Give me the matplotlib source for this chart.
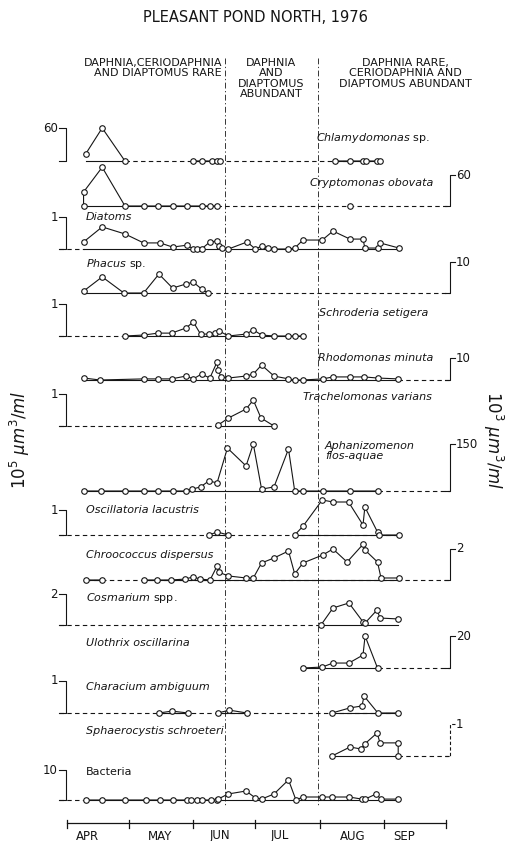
import numpy as np
import matplotlib.pyplot as plt

nan = np.nan

# days counted from 1 April 1976; values in units of each panel's scale bar
chlamy_day = [9, 17, 28, nan, 61, 65, 70, 72.5, 74, nan, 129.5, 136.7, 143, 144.4, 149.8, 151.2]
chlamy_val = [12.7, 60, 0, nan, 0, 0, 0, 0, 0, nan, 0, 0, 0, 0, 0, 0]

crypto_day = [8, 8, 17, 28, 37, 44, 51, 58, 65, 69, 72.5, nan, 136.7]
crypto_val = [0, 27, 75, 0, 0, 0, 0, 0, 0, 0, 0, nan, 0]

diatom_day = [8, 17, 28, 37, 45, 51, 58, 61, 63, 65, 69, 72.5, 73.4, 75, 78, 87, 91, 94, 97,
              100, 107, 110, 114, 123.3, 128.5, 136.7, 143, 143.9, 150.2, 151.2, 160.4]
diatom_val = [0.22, 0.69, 0.47, 0.19, 0.19, 0.06, 0.12, 0, 0, 0, 0.22, 0.25, 0.09, 0.03, 0, 0.22,
              0, 0.09, 0.03, 0, 0, 0.03, 0.28, 0.28, 0.56, 0.31, 0.31, 0.03, 0.03, 0.19, 0.03]

phacus_day = [8, 17, 27.5, 37, 44.4, 51, 57.5, 61, 65, 68.1]
phacus_val = [0.6, 5.2, 0, 0, 6.1, 1.6, 2.9, 3.5, 1.3, 0]

schrod_day = [28, 37, 44, 50.5, 57.5, 61, 64.5, 68.5, 71.5, 73.4, 78, 86.5, 90, 94, 100, 107, 110, 114]
schrod_val = [0, 0.03, 0.09, 0.09, 0.25, 0.44, 0.06, 0.06, 0.09, 0.16, 0, 0.06, 0.19, 0.03, 0, 0, 0, 0]

rhodo_day = [8, 16, 37, 44, 50.5, 57.5, 61, 65, 69, 72.5, 73, 74.4, 78, 86.5, 90, 94, 100, 107,
             110, 114, 123.5, 128.5, 136.7, 143.5, 150, 160]
rhodo_val = [0.9, 0, 0.5, 0.5, 0.5, 1.8, 0.5, 2.7, 0.9, 8.2, 4.5, 1.4, 0.9, 1.8, 2.7, 6.8, 1.8, 0.5,
             0, 0, 0.5, 1.4, 1.4, 1.4, 0.9, 0.5]

trach_day = [73, 78, 86.5, 90, 93.7, 100]
trach_val = [0.03, 0.25, 0.53, 0.81, 0.25, 0]

aphan_day = [8, 16.5, 28, 37, 44, 51, 57.5, 60.5, 64.5, 68.5, 72.5, 77.5, 86.5, 90, 94, 100, 107,
             110, 114, 123.5, 136.7, 150]
aphan_val = [0, 0, 0, 0, 0, 0, 0, 6, 13, 32, 26, 137, 80, 150, 6, 13, 134, 0, 0, 0, 0, 0]

oscil_day = [68.6, 72.5, 78, nan, 110, 114, 123.3, 128.5, 136, 143, 143.9, 150, 150.7, 160.4]
oscil_val = [0, 0.12, 0, nan, 0, 0.35, 1.4, 1.32, 1.32, 0.4, 1.12, 0.12, 0, 0]

chroo_day = [9, 17, nan, 37, 43.5, 50.2, 57, 61, 64.3, 69.1, 72.5, 73.4, 78, 86.5, 90, 94, 100, 107,
             110, 114, 123.5, 128.5, 135.3, 143, 143.9, 150, 151.7, 160.4]
chroo_val = [0, 0, nan, 0, 0, 0, 0.06, 0.2, 0.06, 0, 0.9, 0.5, 0.26, 0.13, 0.13, 1.1, 1.42, 1.87,
             0.39, 1.1, 1.61, 2.0, 1.16, 2.3, 1.94, 1.16, 0.13, 0.13]

cosma_day = [122.7, 128.5, 136.2, 143, 144, 149.8, 151.2, 160]
cosma_val = [0, 1.1, 1.42, 0.2, 0.13, 0.97, 0.45, 0.39]

uloth_day = [114, 123.3, 128.5, 136.2, 143, 144, 150]
uloth_val = [0, 0.6, 3.1, 3.1, 8.1, 20, 0]

chara_day = [44.4, 50.7, 58.5, nan, 73, 78.3, 87, nan, 128, 136.7, 142.5, 143.5, 150.2, 160]
chara_val = [0, 0.06, 0, nan, 0, 0.09, 0, nan, 0, 0.16, 0.22, 0.53, 0, 0]

sphae_day = [128, 136.7, 142, 143.9, 149.8, 151.2, 160, 160]
sphae_val = [0, 0.28, 0.22, 0.38, 0.72, 0.41, 0.41, 0]

bact_day = [9, 17, 28, 38, 45, 51, 58, 60, 63, 65, 69.6, 72.5, 73, 77.8, 86.5, 91, 94, 100, 107,
            110.6, 114, 123.3, 128, 136.2, 142.5, 144, 149.3, 151.7, 160]
bact_val = [0, 0, 0, 0, 0, 0, 0, 0, 0, 0, 0, 0, 0.3, 2, 3, 0.7, 0.3, 2, 6.7, 0, 1, 1, 1, 1, 0.3,
            0.3, 2, 0.3, 0.3]

scale_vals = [60, 60, 1, 10, 1, 10, 1, 150, 1, 2, 2, 20, 1, 1, 10]
month_names = ['APR', 'MAY', 'JUN', 'JUL', 'AUG', 'SEP']
month_starts = [0, 30, 61, 91, 122, 153, 183]

# layout: baseline row (px), bar height (px), bar side, dashed zero-line extent (days)
panels = [
    (chlamy_day, chlamy_val, 161, 33, 'L', (28, 151.2)),
    (crypto_day, crypto_val, 206, 31, 'R', (72.5, 185)),
    (diatom_day, diatom_val, 249, 32, 'L', (-3.9, 8)),
    (phacus_day, phacus_val, 293, 31, 'R', (68, 185)),
    (schrod_day, schrod_val, 336, 32, 'L', (-3.9, 28)),
    (rhodo_day, rhodo_val, 380, 22, 'R', (160, 185)),
    (trach_day, trach_val, 426, 32, 'L', (-3.9, 73)),
    (aphan_day, aphan_val, 491, 47, 'R', (150, 185)),
    (oscil_day, oscil_val, 535, 25, 'L', (-3.9, 160)),
    (chroo_day, chroo_val, 580, 31, 'R', (9, 185)),
    (cosma_day, cosma_val, 625, 31, 'L', (-3.9, 122.7)),
    (uloth_day, uloth_val, 668, 32, 'R', (150, 185)),
    (chara_day, chara_val, 713, 32, 'L', (-3.9, 160)),
    (sphae_day, sphae_val, 756, 32, 'R', (160, 185)),
    (bact_day, bact_val, 800, 30, 'L', (-3.9, 9)),
]

# species labels: text, x (days), y (px), alignment
labels = [
    (r'$\mathit{Chlamydomonas}$ sp.', 175.4, 138, 'right', 'normal'),
    ('Cryptomonas obovata', 176.8, 183, 'right', 'italic'),
    ('Diatoms', 9.2, 217, 'left', 'italic'),
    (r'$\mathit{Phacus}$ sp.', 9.2, 264, 'left', 'normal'),
    ('Schroderia setigera', 174.4, 313, 'right', 'italic'),
    ('Rhodomonas minuta', 176.8, 358, 'right', 'italic'),
    ('Trachelomonas varians', 176.3, 397, 'right', 'italic'),
    ('Aphanizomenon\nflos-aquae', 124.6, 451, 'left', 'italic'),
    ('Oscillatoria lacustris', 9.2, 510, 'left', 'italic'),
    ('Chroococcus dispersus', 9.2, 555, 'left', 'italic'),
    (r'$\mathit{Cosmarium}$ spp.', 9.2, 598, 'left', 'normal'),
    ('Ulothrix oscillarina', 9.2, 643, 'left', 'italic'),
    ('Characium ambiguum', 9.2, 687, 'left', 'italic'),
    ('Sphaerocystis schroeteri', 9.2, 731, 'left', 'italic'),
    ('Bacteria', 9.2, 772, 'left', 'normal'),
]

ink = '#151515'
plt.rcParams['font.family'] = 'DejaVu Sans'
plt.rcParams['mathtext.fontset'] = 'dejavusans'

fig = plt.figure(figsize=(5.11, 8.41), dpi=100)
ax = fig.add_axes([0, 0, 1, 1])
ax.set_xlim(-67 / 2.07, (511 - 67) / 2.07)
ax.set_ylim(841, 0)
ax.axis('off')

for (days, vals, base, bar, side, dash), sv in zip(panels, scale_vals):
    x = np.array(days, float)
    y = base - np.array(vals, float) * bar / sv
    ax.plot(dash, [base, base], color=ink, lw=0.8, dashes=(4, 3))
    for run in np.split(x, np.where(np.isnan(x))[0]):
        run = run[~np.isnan(run)]
        if len(run) > 1:
            ax.plot([run.min(), run.max()], [base, base], color=ink, lw=0.8)
    ax.plot(x, y, color=ink, lw=0.8, marker='o', ms=4.0, mfc='white', mec=ink, mew=0.8, zorder=3)
    top = base - bar
    if side == 'L':
        ax.plot([-3.9, -0.5, -0.5, -3.9], [top, top, base, base], color=ink, lw=0.8)
        ax.text(-4.4, top, str(sv), ha='right', va='center', fontsize=8.5, color=ink)
    else:
        ls = (0, (3, 2)) if days is sphae_day else '-'
        ax.plot([187.4, 185, 185, 182.6], [top, top, base, base], color=ink, lw=0.8, ls=ls)
        ax.text(188, top, str(sv), ha='left', va='center', fontsize=8.5, color=ink)

for txt, xl, yl, ha, st in labels:
    ax.text(xl, yl, txt, ha=ha, va='center', fontsize=8, style=st, color=ink, linespacing=1.1)

# period boundaries
for xd in [76.3, 121.3]:
    ax.plot([xd, xd], [58, 805], color=ink, lw=0.6, dashes=(7, 3, 1.5, 3))

ax.text(90.8, 17, 'PLEASANT POND NORTH, 1976', ha='center', va='center', fontsize=10.5, color=ink)
ax.text(74.9, 58, 'DAPHNIA,CERIODAPHNIA\nAND DIAPTOMUS RARE', ha='right', va='top',
        fontsize=8, color=ink, linespacing=1.05)
ax.text(98.6, 58, 'DAPHNIA\nAND\nDIAPTOMUS\nABUNDANT', ha='center', va='top',
        fontsize=8, color=ink, linespacing=1.05)
ax.text(163.3, 58, 'DAPHNIA RARE,\nCERIODAPHNIA AND\nDIAPTOMUS ABUNDANT', ha='center', va='top',
        fontsize=8, color=ink, linespacing=1.05)

ax.text((20 - 67) / 2.07, 440, r'$10^{5}\ \mu m^{3}/ml$', rotation=90, ha='center', va='center',
        fontsize=12, color=ink)
ax.text((493 - 67) / 2.07, 440, r'$10^{3}\ \mu m^{3}/ml$', rotation=270, ha='center', va='center',
        fontsize=12, color=ink)

# time axis
ax.plot([month_starts[0], month_starts[-1]], [823, 823], color=ink, lw=0.9)
for m in month_starts:
    ax.plot([m, m], [820, 828], color=ink, lw=0.9)
for name, xm in zip(month_names, [10, 45, 74, 103, 138, 163]):
    ax.text(xm, 836, name, ha='center', va='center', fontsize=8.5, color=ink)

fig.savefig('out.png', dpi=100, facecolor='white')
